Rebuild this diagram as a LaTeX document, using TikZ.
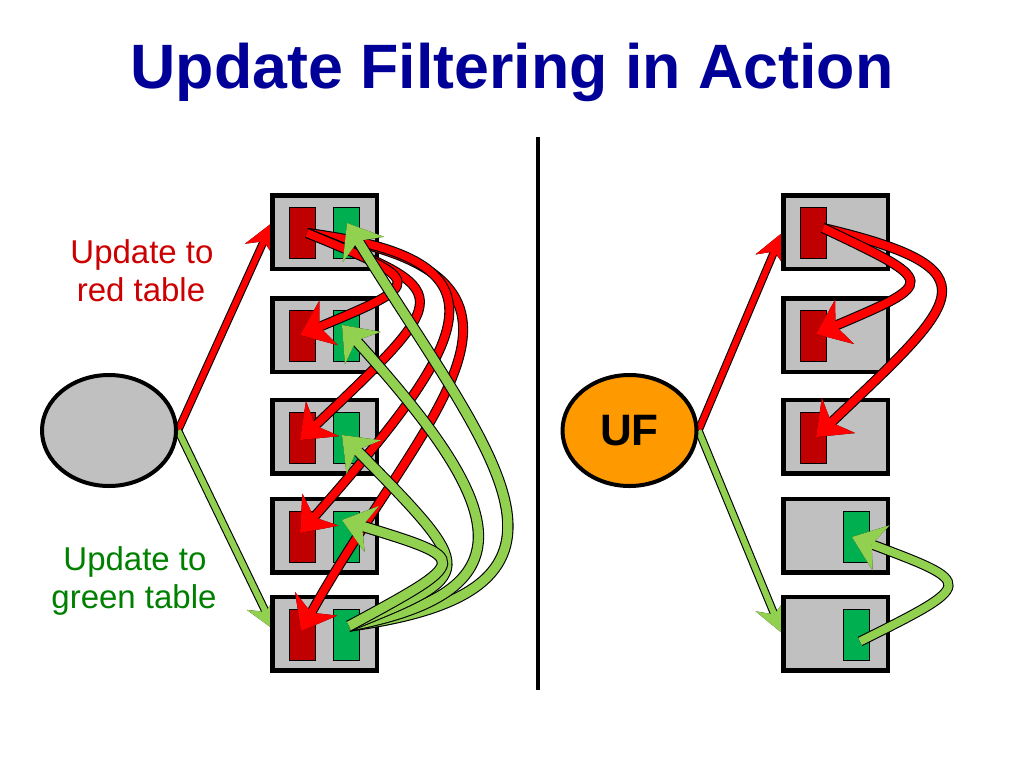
\documentclass[tikz,border=0pt]{standalone}
\usepackage{fontspec}
\setmainfont{Liberation Sans}
\usetikzlibrary{arrows.meta,shapes.geometric,calc}

\definecolor{titleblue}{RGB}{0,0,153}
\definecolor{txtred}{RGB}{204,0,0}
\definecolor{txtgreen}{RGB}{0,128,0}
\definecolor{boxgray}{RGB}{192,192,192}
\definecolor{darkred}{RGB}{192,0,0}
\definecolor{tgreen}{RGB}{0,176,80}
\definecolor{arrred}{RGB}{255,0,0}
\definecolor{arrgreen}{RGB}{146,208,80}
\definecolor{ufor}{RGB}{255,153,0}

% block arrow: #1 colour, #2 inner shaft width, #3 tip length, #4 tip width, #5 path
\newcommand{\blockarrow}[5]{%
  \draw[black, line width=#2pt+2.2pt, -{Stealth[length=#3pt, width=#4pt, inset=10pt, line width=1.1pt]}] #5;
  \draw[#1, line width=#2pt, -{Stealth[length=#3pt, width=#4pt, inset=10pt, line width=0.01pt]}] #5;
}

\tikzset{
  tbox/.style={draw=black, line width=4.5pt, fill=boxgray, minimum width=104.5pt, minimum height=73.5pt, inner sep=0pt},
  redrect/.style={draw=black, line width=0.8pt, fill=darkred, minimum width=26.2pt, minimum height=51.2pt, inner sep=0pt},
  greenrect/.style={draw=black, line width=0.8pt, fill=tgreen, minimum width=26.2pt, minimum height=51.2pt, inner sep=0pt},
  source/.style={ellipse, draw=black, line width=4pt, minimum width=134pt, minimum height=111pt, inner sep=0pt},
  lbl/.style={anchor=base, font=\fontsize{33}{38}\selectfont},
}

\begin{document}
\begin{tikzpicture}[x=1pt, y=-1pt]
\fill[white] (0,0) rectangle (1024,768);
\useasboundingbox (0,0) rectangle (1024,768);

% title
\node[anchor=base, text=titleblue, font=\fontsize{62.7}{70}\selectfont\bfseries] (title) at (512,88) {Update Filtering in Action};

% labels
\node[lbl, text=txtred] (lr1) at (142,263) {Update to};
\node[lbl, text=txtred] (lr2) at (141,301) {red table};
\node[lbl, text=txtgreen] (lg1) at (135,570) {Update to};
\node[lbl, text=txtgreen] (lg2) at (134,608) {green table};

% divider
\draw[line width=3.5pt] (538,137) -- (538,690);

% box centres
\path
  (324.5,232)   coordinate (cL1) (324.5,335)   coordinate (cL2) (324.5,436.5) coordinate (cL3)
  (324.5,535.5) coordinate (cL4) (324.5,633.5) coordinate (cL5)
  (835.5,232)   coordinate (cR1) (835.5,335)   coordinate (cR2) (835.5,436.5) coordinate (cR3)
  (835.5,535.5) coordinate (cR4) (835.5,633.5) coordinate (cR5);
\node[source, draw=none] (E0) at (109,430.5) {};
\node[source, draw=none] (UF0) at (629.5,430.5) {};

% arrows from the sources (behind the boxes)
\blockarrow{arrred}{6}{30}{32}{(E0.east) -- ($(cL1)+(-52.5,-9)$)}
\blockarrow{arrgreen}{6}{30}{32}{(E0.east) -- ($(cL5)+(-50,-3.5)$)}
\blockarrow{arrred}{6}{30}{32}{(UF0.east) -- ($(cR1)+(-53.5,1)$)}
\blockarrow{arrgreen}{6}{30}{32}{(UF0.east) -- ($(cR5)+(-53.5,-0.5)$)}

% sources
\node[source, fill=boxgray] (E) at (109,430.5) {};
\node[source, fill=ufor, font=\fontsize{44}{50}\selectfont\bfseries] (UF) at (629.5,430.5) {UF};

% left boxes
\foreach \i in {1,...,5}{
  \node[tbox] (L\i) at (cL\i) {};
  \node[redrect] (L\i r) at ($(cL\i)+(-22,1)$) {};
  \node[greenrect] (L\i g) at ($(cL\i)+(22,1)$) {};
}
% right boxes
\foreach \i in {1,...,5}{
  \node[tbox] (R\i) at (cR\i) {};
}
\foreach \i in {1,2,3}{
  \node[redrect] (R\i r) at ($(cR\i)+(-22,1)$) {};
}
\foreach \i in {4,5}{
  \node[greenrect] (R\i g) at ($(cR\i)+(21,1)$) {};
}

% left: red table updates
\coordinate (sL) at ($(L1r.center)+(4.5,0)$);
\blockarrow{arrred}{7.8}{31}{48}{(sL) .. controls (590,275) and (423.5,411.5) .. ($(L5r.center)+(-1.5,-3.5)$)}
\blockarrow{arrred}{7.8}{31}{48}{(sL) .. controls (520,260) and (470,340) .. ($(L4r.center)+(-2.5,-3.5)$)}
\blockarrow{arrred}{7.8}{31}{48}{(sL) .. controls (456.2,291.8) and (456.2,291.8) .. ($(L3r.center)+(-2.5,2.5)$)}
\blockarrow{arrred}{7.8}{31}{48}{(sL) .. controls (425.7,282.3) and (425.7,282.3) .. ($(L2r.center)+(-2.5,-1)$)}

% left: green table updates
\coordinate (gL) at ($(L5g.center)+(2.5,-8.5)$);
\blockarrow{arrgreen}{9.2}{31}{48}{(gL) .. controls (620,590) and (490,455) .. ($(L1g.center)+(0.5,-10)$)}
\blockarrow{arrgreen}{9.2}{31}{48}{(gL) .. controls (540,590) and (500,500) .. ($(L2g.center)+(-4.5,-11)$)}
\blockarrow{arrgreen}{9.2}{31}{48}{(gL) .. controls (478.2,573.8) and (478.2,573.8) .. ($(L3g.center)+(-4.5,-2.5)$)}
\blockarrow{arrgreen}{9.2}{31}{48}{(gL) .. controls (471.5,559.7) and (471.5,559.7) .. ($(L4g.center)+(-4.5,-16.5)$)}

% right: filtered updates
\coordinate (sR) at ($(R1r.center)+(9.5,-5)$);
\blockarrow{arrred}{8}{31}{48}{(sR) .. controls (1000,270) and (960,300) .. ($(R3r.center)+(2.5,-0.5)$)}
\blockarrow{arrred}{8}{31}{48}{(sR) .. controls (937.5,282.3) and (937.5,282.3) .. ($(R2r.center)+(2.5,-2)$)}
\coordinate (gR) at ($(R5g.center)+(3.5,7)$);
\blockarrow{arrgreen}{8}{31}{48}{(gR) .. controls (976,583.5) and (976,583.5) .. ($(R4g.center)+(-4.5,0.5)$)}

\end{tikzpicture}
\end{document}
